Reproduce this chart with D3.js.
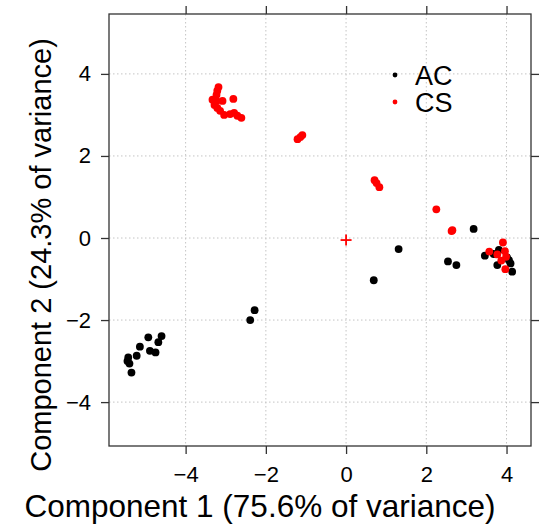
<!DOCTYPE html>
<html>
<head>
<meta charset="utf-8">
<script src="https://cdn.jsdelivr.net/npm/d3@7"></script>
<style>
  body { margin: 0; background: #fff; }
  svg { display: block; font-family: 'Liberation Sans', Arial, sans-serif; }
</style>
</head>
<body>
<div class="canvas"></div>
<script>
// PCA scores: [component 1, component 2]
const acPoints = [
  [-4.93, -2.42], [-4.60, -2.39], [-4.68, -2.54], [-5.14, -2.65], [-4.89, -2.75],
  [-4.75, -2.79], [-5.22, -2.87], [-5.43, -2.91], [-5.45, -3.00], [-5.40, -3.06],
  [-5.35, -3.28],
  [-2.28, -1.76], [-2.39, -2.00],
  [0.69, -1.03], [1.31, -0.27], [2.54, -0.57], [2.75, -0.66], [3.18, 0.22],
  [3.46, -0.43], [3.68, -0.39], [3.81, -0.29], [4.06, -0.54], [4.10, -0.62],
  [3.77, -0.66], [4.14, -0.82], [4.01, -0.47]
]

const csPoints = [
  [-3.18, 3.68], [-3.21, 3.59], [-3.23, 3.49], [-3.33, 3.37], [-3.23, 3.34],
  [-3.08, 3.34], [-2.81, 3.39], [-3.28, 3.24], [-3.21, 3.17], [-3.14, 3.10],
  [-3.04, 3.00], [-2.89, 3.02], [-2.79, 3.05], [-2.71, 2.98], [-2.61, 2.93],
  [-1.21, 2.41], [-1.14, 2.46], [-1.09, 2.51],
  [0.71, 1.41], [0.76, 1.34], [0.83, 1.24],
  [2.25, 0.70], [2.63, 0.17], [2.65, 0.19],
  [3.91, -0.11], [3.57, -0.33], [3.77, -0.40], [3.96, -0.32], [3.99, -0.46],
  [3.87, -0.55], [3.97, -0.76]
]

const centre = [0, -0.05]

const xTicks = [-4, -2, 0, 2, 4]
const yTicks = [-4, -2, 0, 2, 4]
const xDomain = [-5.91, 4.61]
const yDomain = [-5.07, 5.46]

const groups = ['AC', 'CS']
const groupColours = ['#000000', '#ff0000']

const xTitle = 'Component 1 (75.6% of variance)'
const yTitle = 'Component 2 (24.3% of variance)'

const size = {width: 542, height: 530}
const margin = {top: 14, right: 11, bottom: 84, left: 109}
const width = size.width - margin.left - margin.right
const height = size.height - margin.top - margin.bottom

const svg = d3.select('.canvas')
  .append('svg')
  .attr('width', size.width)
  .attr('height', size.height)

const container = svg.append('g')
  .attr('transform', `translate(${margin.left}, ${margin.top})`)

const x = d3.scaleLinear().domain(xDomain).range([0, width])
const y = d3.scaleLinear().domain(yDomain).range([height, 0])

// dotted grid at tick positions
const grid = container.append('g')
  .attr('stroke', '#c4c4c4')
  .attr('stroke-width', 1)
  .attr('stroke-dasharray', '1.5,2.5')

grid.selectAll('.gx')
  .data(xTicks)
  .enter().append('line')
  .attr('x1', d => x(d)).attr('x2', d => x(d))
  .attr('y1', 0).attr('y2', height)

grid.selectAll('.gy')
  .data(yTicks)
  .enter().append('line')
  .attr('x1', 0).attr('x2', width)
  .attr('y1', d => y(d)).attr('y2', d => y(d))

// axes on all four sides, labels only bottom and left
function styleAxis(g) {
  g.select('.domain').remove()
  g.selectAll('line').attr('stroke', '#333').attr('stroke-width', 1.3)
  g.selectAll('text')
    .attr('fill', '#000')
    .style('font-size', '22px')
    .style('font-family', "'Liberation Sans', Arial, sans-serif")
}

container.append('g')
  .attr('transform', `translate(0, ${height})`)
  .call(d3.axisBottom(x).tickValues(xTicks).tickSize(8).tickPadding(12).tickFormat(d3.format('d')))
  .call(styleAxis)

container.append('g')
  .call(d3.axisTop(x).tickValues(xTicks).tickSize(8).tickFormat(''))
  .call(styleAxis)

container.append('g')
  .call(d3.axisLeft(y).tickValues(yTicks).tickSize(8).tickPadding(10).tickFormat(d3.format('d')))
  .call(styleAxis)

container.append('g')
  .attr('transform', `translate(${width}, 0)`)
  .call(d3.axisRight(y).tickValues(yTicks).tickSize(8).tickFormat(''))
  .call(styleAxis)

container.append('rect')
  .attr('width', width)
  .attr('height', height)
  .attr('fill', 'none')
  .attr('stroke', '#333')
  .attr('stroke-width', 1.3)

// points
const series = [acPoints, csPoints]
series.forEach((points, i) => {
  container.append('g')
    .selectAll('circle')
    .data(points)
    .enter().append('circle')
    .attr('cx', d => x(d[0]))
    .attr('cy', d => y(d[1]))
    .attr('r', 3.9)
    .attr('fill', groupColours[i])
})

// centre marker
const cross = container.append('g')
  .attr('transform', `translate(${x(centre[0])}, ${y(centre[1])})`)
  .attr('stroke', '#ff0000')
  .attr('stroke-width', 1.8)
cross.append('line').attr('x1', -5.5).attr('x2', 5.5)
cross.append('line').attr('y1', -5.5).attr('y2', 5.5)

// legend
const legend = container.append('g')
  .attr('transform', `translate(${395 - margin.left}, ${75 - margin.top})`)

const legendRows = legend.selectAll('g')
  .data(groups)
  .enter().append('g')
  .attr('transform', (d, i) => `translate(0, ${i * 27})`)

legendRows.append('circle')
  .attr('r', 2.4)
  .attr('fill', (d, i) => groupColours[i])

legendRows.append('text')
  .attr('x', 20)
  .attr('dy', '0.36em')
  .style('font-size', '27px')
  .text(d => d)

// axis titles
svg.append('text')
  .attr('x', 260)
  .attr('y', 517)
  .attr('text-anchor', 'middle')
  .style('font-size', '31.5px')
  .text(xTitle)

svg.append('text')
  .attr('transform', 'translate(51, 255) rotate(-90)')
  .attr('text-anchor', 'middle')
  .style('font-size', '29px')
  .text(yTitle)
</script>
</body>
</html>
